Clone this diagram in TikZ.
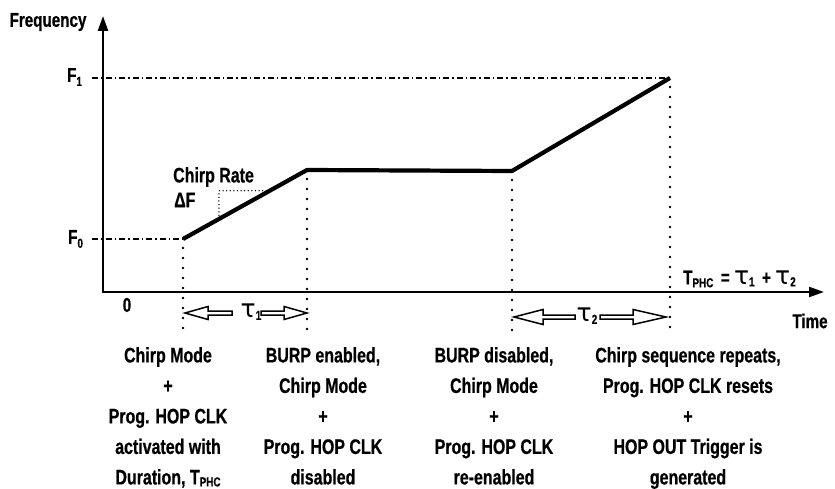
\documentclass[tikz,border=0pt]{standalone}
\usepackage{fontspec}
\setmainfont{Liberation Sans}[FakeStretch=0.76,FakeBold=0.6]
\newfontfamily\taufont{DejaVu Sans}
\usetikzlibrary{arrows.meta,calc}
\newcommand\lowsub[2][4pt]{\raisebox{-#1}{\fontsize{13}{13}\selectfont #2}}
\newcommand\bigtau{{\taufont\mdseries\fontsize{25}{25}\selectfont τ}}
\begin{document}
\begin{tikzpicture}[x=1pt,y=-1pt,
  axisline/.style={line width=2.3pt,{Triangle[length=15pt,width=10pt]}-{Triangle[length=15pt,width=10pt]}},
  curve/.style={line width=4.2pt,line join=round},
  guide/.style={line width=1.3pt,dash pattern=on 6pt off 3pt on 1.5pt off 3pt},
  drop/.style={line width=2.8pt,line cap=round,dash pattern=on 0pt off 10pt},
  fine/.style={line width=1.5pt,line cap=round,dash pattern=on 0pt off 3.6pt},
  hollow/.style={line width=1.5pt,line join=miter},
  lab/.style={font=\bfseries\fontsize{20}{24}\selectfont,inner sep=0pt},
  col/.style={font=\bfseries\fontsize{21}{30.5}\selectfont,inner sep=0pt,align=center,anchor=north}]
\useasboundingbox (0,0) rectangle (835,489);
% axes
\coordinate (O) at (103,292);
\coordinate (ytop) at (103,16);
\coordinate (xend) at (824,292);
\draw[axisline] (ytop) -- (O) -- (xend);
% curve points
\coordinate (A) at (183,239);
\coordinate (B) at (307,170);
\coordinate (C) at (512,171);
\coordinate (D) at (670,78);
% guides
\coordinate (F1tick) at (92,78);
\coordinate (F0tick) at (92,239);
\draw[guide] (F1tick) -- (D);
\draw[guide] (F0tick) -- (A);
% drops
\coordinate (Ab) at (183,333);
\coordinate (Bb) at (307,333);
\coordinate (Cb) at (512,333);
\coordinate (Db) at (670,333);
\draw[drop] ($(A)+(0,9)$) -- (Ab);
\draw[drop] ($(B)+(0,9)$) -- (Bb);
\draw[drop] ($(C)+(0,9)$) -- (Cb);
\draw[drop] ($(D)+(0,9)$) -- (Db);
% chirp
\draw[curve] (A) -- (B) -- (C) -- (D);
% chirp rate triangle
\coordinate (cr1) at ($(A)!0.29!(B)$);
\coordinate (cr2) at ($(A)!0.70!(B)$);
\draw[fine] (cr1) -- (cr1 |- cr2) -- (cr2);
% labels
\node[lab] (freq) at (48,22) {Frequency};
\node[lab,anchor=west] (F1) at (67,77) {F\lowsub{1}};
\node[lab,anchor=west] (F0) at (68,239) {F\lowsub{0}};
\node[lab] (zero) at (127,305) {0};
\node[lab,font=\bfseries\fontsize{21}{24}\selectfont,anchor=west] (crate) at (173,177) {Chirp Rate};
\node[lab,font=\bfseries\fontsize{21}{24}\selectfont,anchor=west] (dF) at (174,200) {ΔF};
\node[lab] (time) at (810,321) {Time};
\node[lab,anchor=west] (tphc) at (683,279) {T\lowsub[3pt]{PHC}\ \,=\ \bigtau\lowsub[2pt]{1}\ \,+\ \bigtau\lowsub[2pt]{2}};
% tau arrows
\node[lab] (tau1) at (251,312) {\bigtau\lowsub[2pt]{1}};
\node[lab] (tau2) at (587,316) {\bigtau\lowsub[2pt]{2}};
\coordinate (t1l) at (185,313);
\coordinate (t1r) at (307,313);
\coordinate (t2l) at (514,317);
\coordinate (t2r) at (666,317);
\draw[hollow] (t1l) -- ++(23,-6.5) -- ++(0,4.5) -- ++(24,0) -- ++(0,4) -- ++(-24,0) -- ++(0,4.5) -- cycle;
\draw[hollow] (t1r) -- ++(-23,-6.5) -- ++(0,4.5) -- ++(-23,0) -- ++(0,4) -- ++(23,0) -- ++(0,4.5) -- cycle;
\draw[hollow] (t2l) -- ++(29,-7.5) -- ++(0,5.5) -- ++(32,0) -- ++(0,4) -- ++(-32,0) -- ++(0,5.5) -- cycle;
\draw[hollow] (t2r) -- ++(-33,-7.5) -- ++(0,5.5) -- ++(-33,0) -- ++(0,4) -- ++(33,0) -- ++(0,5.5) -- cycle;
% bottom text
\node[col] (c1) at (168,347) {Chirp Mode\\+\\Prog. HOP CLK\\activated with\\Duration, T\lowsub[2pt]{PHC}};
\node[col] (c2) at (323,347) {BURP enabled,\\Chirp Mode\\+\\Prog. HOP CLK\\disabled};
\node[col] (c3) at (494,347) {BURP disabled,\\Chirp Mode\\+\\Prog. HOP CLK\\re-enabled};
\node[col] (c4) at (688,347) {Chirp sequence repeats,\\Prog. HOP CLK resets\\+\\HOP OUT Trigger is\\generated};
\end{tikzpicture}
\end{document}
